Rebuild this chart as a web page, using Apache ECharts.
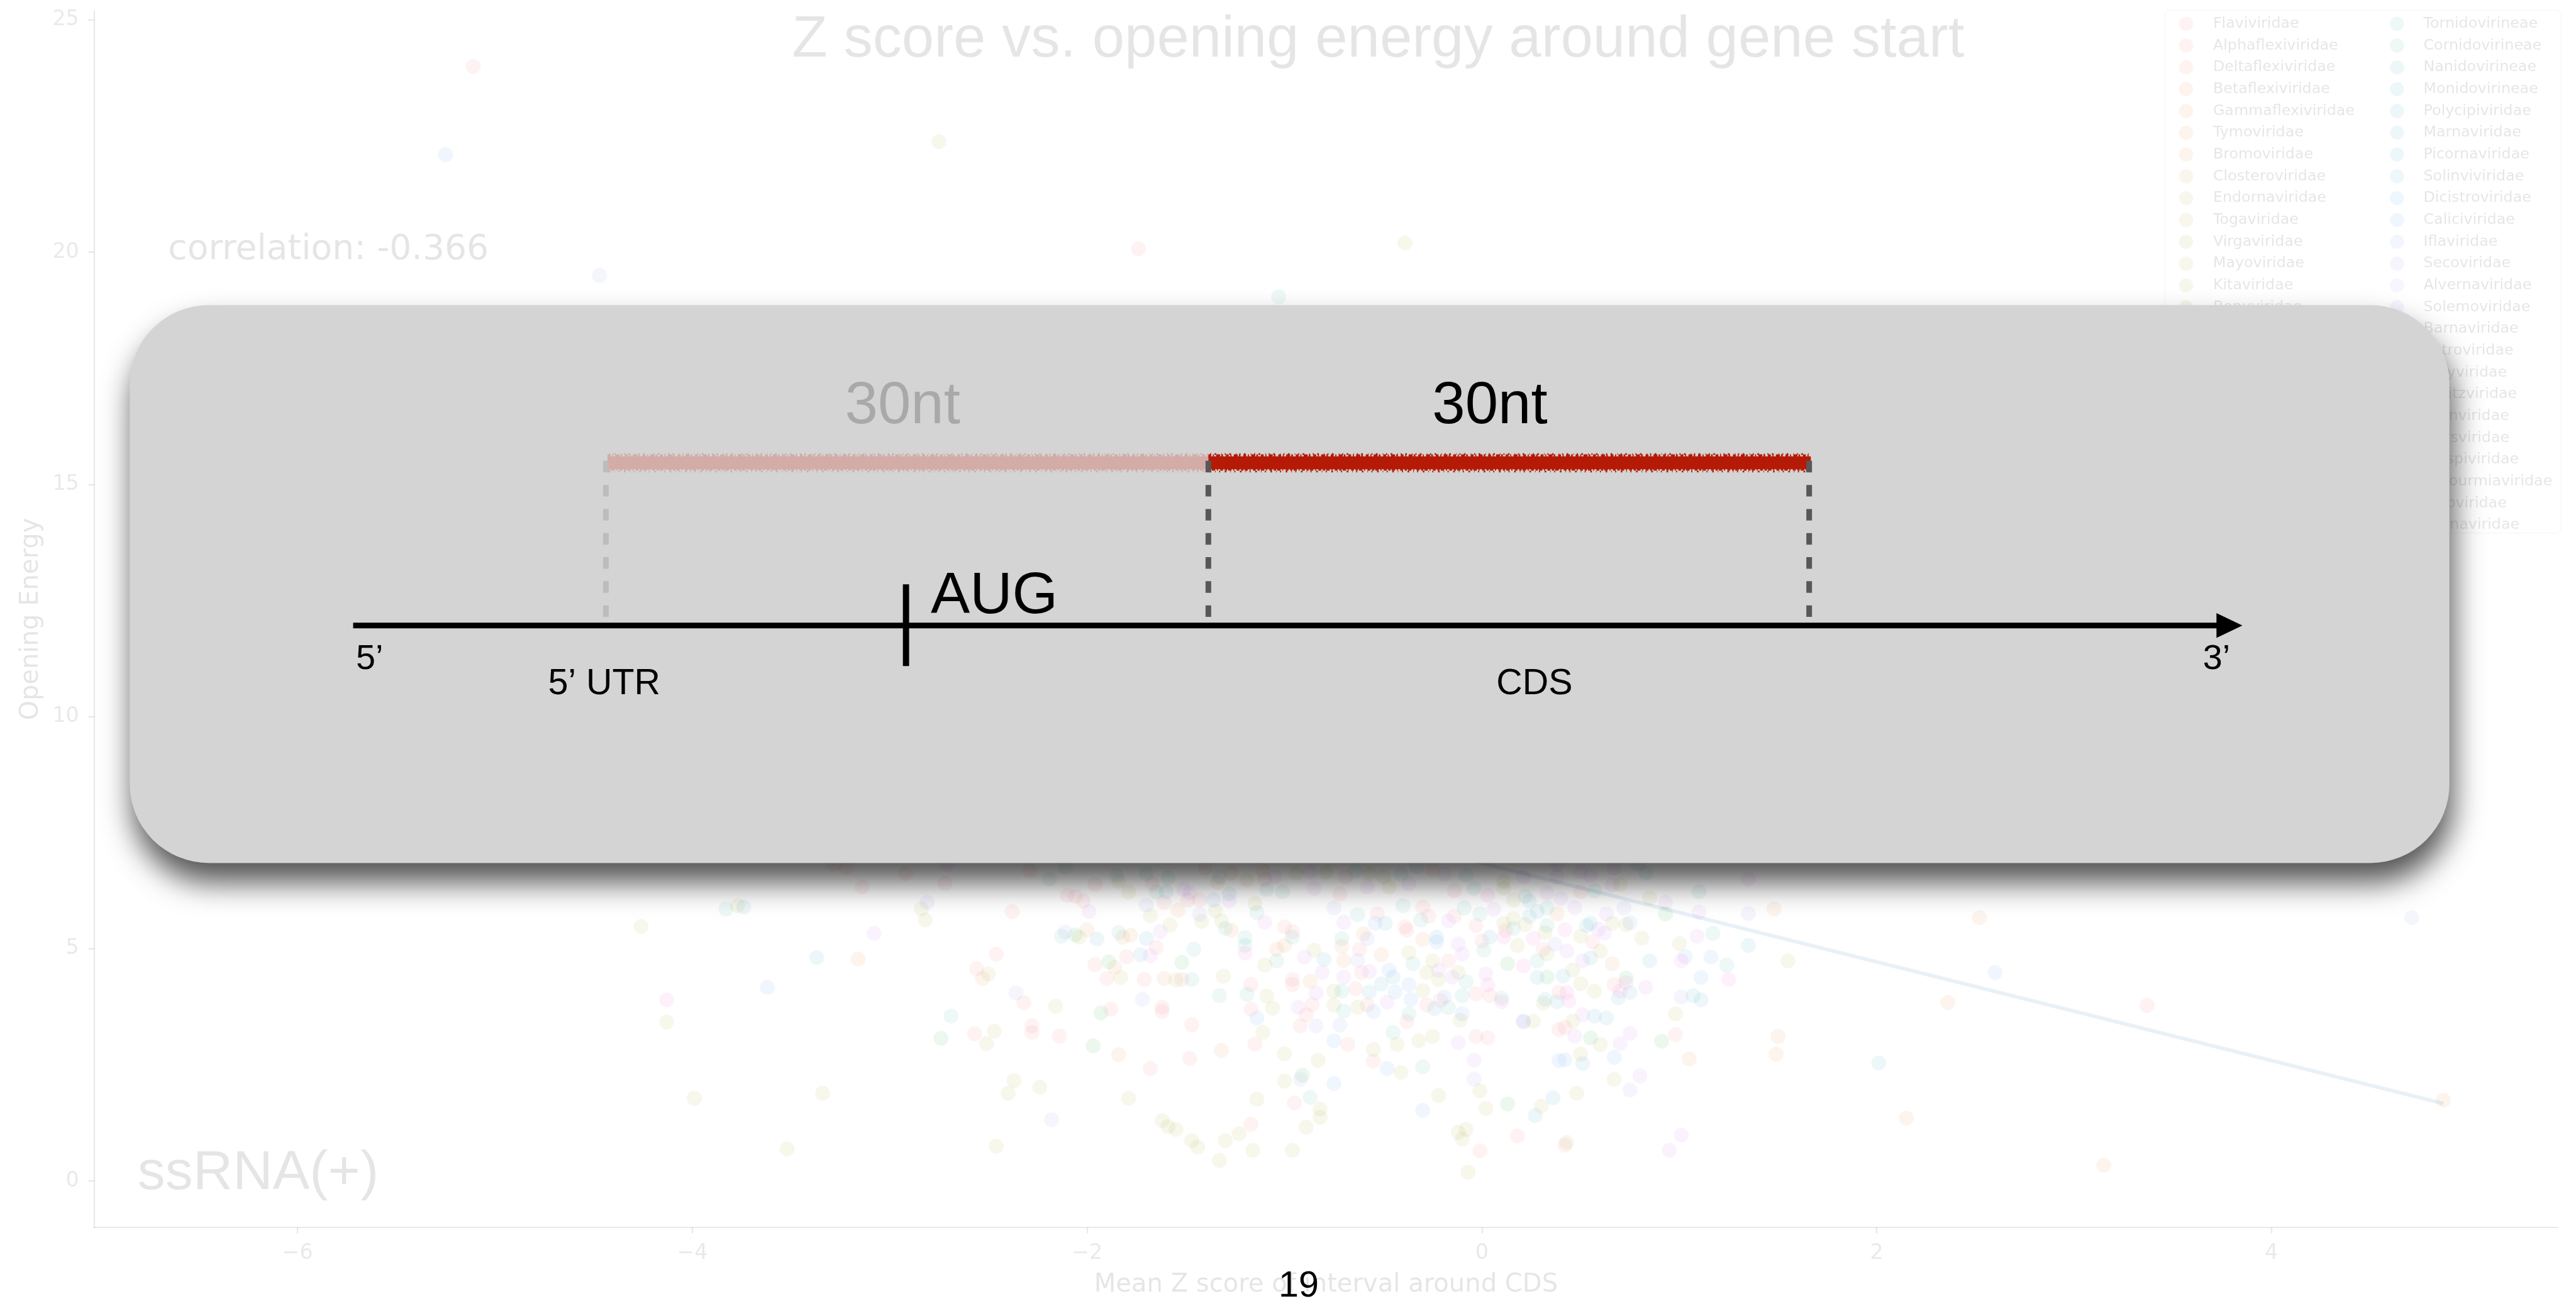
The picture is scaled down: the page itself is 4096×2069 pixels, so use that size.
<!DOCTYPE html>
<html>
<head>
<meta charset="utf-8">
<script src="https://cdn.jsdelivr.net/npm/echarts@6/dist/echarts.min.js"></script>
<style>
  html, body { margin: 0; padding: 0; background: #ffffff; }
  #chart { width: 4096px; height: 2069px; }
</style>
</head>
<body>
<div id="chart"></div>
<script>
// Layout is written on a 4563 x 2305 design grid and scaled down to the canvas.
const SCALE = 0.897;
const s = v => v * SCALE;

// ---- chart text and axes ----
const titleText = 'Z score vs. opening energy around gene start';
const xAxisName = 'Mean Z score of interval around CDS';
const yAxisName = 'Opening Energy';
const correlationText = 'correlation: -0.366';
const groupText = 'ssRNA(+)';
const pageNumber = '19';
const xTicks = [-6, -4, -2, 0, 2, 4];
const yTicks = [0, 5, 10, 15, 20, 25];
const xRange = [-7.03, 5.45];
const yRange = [-1.0, 25.2];

// ---- families (legend order, two columns) ----
const leftFamilies = ['Flaviviridae', 'Alphaflexiviridae', 'Deltaflexiviridae', 'Betaflexiviridae',
  'Gammaflexiviridae', 'Tymoviridae', 'Bromoviridae', 'Closteroviridae', 'Endornaviridae', 'Togaviridae',
  'Virgaviridae', 'Mayoviridae', 'Kitaviridae', 'Benyviridae', 'Hepeviridae', 'Matonaviridae',
  'Alphatetraviridae', 'Carmotetraviridae', 'Permutotetraviridae', 'Nodaviridae', 'Sinhaliviridae',
  'Tombusviridae', 'Hypoviridae', 'Luteoviridae'];
const rightFamilies = ['Tornidovirineae', 'Cornidovirineae', 'Nanidovirineae', 'Monidovirineae',
  'Polycipiviridae', 'Marnaviridae', 'Picornaviridae', 'Solinviviridae', 'Dicistroviridae', 'Caliciviridae',
  'Iflaviridae', 'Secoviridae', 'Alvernaviridae', 'Solemoviridae', 'Barnaviridae', 'Astroviridae',
  'Potyviridae', 'Steitzviridae', 'Duinviridae', 'Fiersviridae', 'Solspiviridae', 'Botourmiaviridae',
  'Mitoviridae', 'Narnaviridae'];

// ---- points: [mean Z score, opening energy] ----
const alphaflexiPoints = [
  [-5.11,24.0],[-1.74,20.07],
  [-3.28,6.81],[-3.22,6.75],[-2.92,6.62],[-2.29,6.68],[-3.14,6.33],[-2.72,6.41],[-2.38,5.80],[-2.46,4.88],
  [-2.56,4.57],[-2.32,3.84],[-2.57,3.17],[-2.28,3.34],[-2.28,3.20],
  [-1.96,6.39],[-1.67,6.40],[-1.10,6.50],[-0.69,6.55],[-0.72,6.18],[-0.25,6.71],[-0.14,6.25],[-2.10,6.15],
  [-2.06,6.13],[-2.02,6.03],
  [-1.61,6.00],[-1.49,6.05],[-1.43,6.05],[-1.65,5.03],[-1.80,4.83],[-1.96,4.66],[-1.90,4.36],[-1.71,4.34],
  [-1.52,4.34],[-1.88,3.70],[-1.62,3.74],[-1.62,3.65],[-2.14,3.12],[-1.68,2.42],[-1.47,3.36],[-1.48,2.64],
  [-1.17,4.23],[-1.17,3.70],[-1.15,2.95],[-1.00,5.47],[-0.96,5.37],[-0.96,4.34],[-0.96,4.23],[-0.86,3.80],
  [-0.89,3.58],[-0.92,3.34],[-0.68,2.94],[-0.95,1.68],[-1.17,1.22],[-0.64,4.14],[-0.58,3.79],[-0.61,4.49],
  [-0.62,4.99],[-0.53,5.75],[-0.39,5.47],[-0.38,5.40],[-0.17,4.74],[-0.03,4.03],[0.04,3.99],[0.00,5.17],
  [-0.14,5.70],[-0.30,5.90],[-0.27,5.70],[-0.03,5.50],[-0.28,3.79],[-0.21,3.89],[-0.38,3.43],[-0.03,3.11],
  [0.03,3.08],[-0.55,2.58],[-0.01,0.65],
  [0.50,6.23],[0.12,5.40],[0.56,5.15],[0.31,4.99],[0.67,4.23],[0.39,4.06],[0.39,3.26],[0.42,3.31],[0.98,3.15],
  [0.18,0.97],[0.42,0.77],[3.37,3.78]
];
const tymoPoints = [
  [-3.16,4.78],[-2.53,4.36],[-1.40,6.73],[-1.34,6.43],[-1.27,6.63],[-1.11,6.68],
  [-1.54,5.83],[-1.27,5.40],[-1.78,5.29],[-1.82,5.25],[-2.00,5.41],[-1.86,4.60],[-1.61,4.36],[-1.84,2.72],
  [-1.32,2.81],[-1.04,4.99],[-1.00,5.07],[-0.87,4.30],[-0.70,4.75],[-0.71,5.05],[-0.60,5.32],[-0.51,4.87],
  [-0.30,5.20],
  [0.38,5.75],[1.48,5.86],[0.66,4.68],[1.05,2.63],[1.50,3.11],[1.49,2.73],[2.15,1.35],[2.36,3.84],
  [2.52,5.67],[4.87,1.74],[3.15,0.34]
];
const mayoPoints = [
  [-2.75,22.38],[-0.39,20.2],
  [-3.77,5.93],[-4.26,5.48],[-2.84,5.86],[-2.82,5.62],[-2.50,4.46],[-4.13,3.42],[-2.47,3.23],[-2.51,2.96],
  [-3.99,1.78],[-3.34,1.89],[-2.37,2.16],[-2.40,1.89],[-2.24,2.02],[-3.52,0.69],[-2.46,0.75],
  [-1.84,6.45],[-1.79,6.22],[-1.19,6.48],[-0.94,6.63],[-0.79,6.66],[-0.57,6.63],[-0.50,6.55],[-0.47,6.33],
  [-1.68,5.71],[-1.42,5.59],[-1.35,5.82],[-1.32,5.60],[-1.58,5.51],[-2.04,5.25],[-1.83,4.38],[-1.55,4.33],
  [-1.31,4.41],[-2.16,3.76],[-1.09,3.98],[-1.06,3.72],[-1.11,3.20],[-1.15,5.97],[-1.10,4.65],[-0.85,4.97],
  [-0.75,3.79],[-1.00,2.74],[-0.83,2.60],[-1.00,2.15],[-0.82,1.55],[-0.82,1.37],[-0.89,1.16],[-1.14,1.76],
  [-1.16,0.66],[-0.96,0.66],[-1.23,1.02],[-1.30,0.87],[-1.33,0.44],[-1.44,0.73],[-1.47,0.87],[-1.55,1.11],
  [-1.59,1.17],[-1.62,1.30],[-1.79,1.78],[-0.75,4.09],[-0.63,3.74],[-0.37,4.92],[-0.28,4.49],[-0.25,4.74],
  [-0.22,4.34],[-0.12,4.49],[-0.30,4.10],[-0.11,3.46],[-0.43,2.94],[-0.32,3.02],[-0.25,3.11],[-0.55,2.83],
  [-0.41,2.34],[-0.01,1.94],[-0.22,1.84],[0.02,1.56],[-0.12,1.05],[-0.08,1.11],[-0.10,0.90],[-0.07,0.19],
  [0.11,6.45],[0.85,6.09],[0.70,6.38],[0.16,6.05],[0.11,6.30],[0.16,5.65],[0.11,5.55],[0.22,5.52],[0.66,5.55],
  [0.73,5.52],[0.50,5.27],[0.60,4.95],[0.32,5.35],[0.33,4.89],[0.18,5.07],[0.81,5.23],[1.00,5.11],[1.55,4.74],
  [0.46,4.54],[0.50,4.25],[0.57,4.09],[0.31,3.83],[0.26,3.44],[0.46,3.44],[0.60,2.94],[0.98,3.60],[0.50,2.73],
  [0.67,2.19],[0.48,1.89],[0.30,1.61],[0.43,0.83]
];
const carmotetraPoints = [
  [-2.74,3.07],[-2.06,5.30],[-1.52,4.71],[-1.89,4.72],[-1.93,3.62],[-1.97,2.91],[-0.91,2.28],
  [0.93,5.75],[0.13,4.68],[0.33,4.39],[0.73,4.37],[0.55,3.08],[0.91,3.01],[0.13,1.66]
];
const cornidoPoints = [
  [-1.03,19.04],[-3.83,5.86],[-2.69,3.55],
  [-2.19,6.50],[-2.11,6.76],[-1.85,6.58],[-1.70,6.61],[-1.59,6.53],[-1.65,6.22],[-1.33,6.55],[-1.09,6.28],
  [-1.01,6.23],[-0.64,6.68],[-0.41,6.61],[-0.33,6.76],[-0.08,6.58],[-0.04,6.30],
  [-1.30,5.44],[-1.84,5.35],[-2.13,5.27],[-1.46,4.99],[-1.47,4.34],[-1.33,3.99],[-1.19,4.02],[-1.20,5.24],
  [-1.20,5.07],[-1.14,5.78],[-1.04,4.74],[-0.96,5.25],[-0.87,1.80],[-0.71,4.09],[-0.70,3.66],[-0.71,5.22],
  [-0.63,5.73],[-0.40,5.93],[-0.31,5.62],[-0.35,4.68],[-0.08,4.29],[-0.10,3.99],[0.01,4.97],[-0.09,5.88],
  [-0.01,5.75],[-0.17,3.73],[-0.37,3.60],[-0.45,3.20],[-0.30,2.46],
  [0.83,6.63],[0.79,6.83],[1.10,6.23],[0.57,6.25],[0.22,6.13],[0.33,5.88],[0.16,5.44],[0.33,5.50],[1.17,5.33],
  [0.28,4.74],[1.24,4.65],[0.10,3.94]
];
const marnaPoints = [
  [-3.74,5.90],[-3.37,4.81],[-1.60,6.23],[-1.28,6.18],
  [-1.70,5.22],[-1.95,5.21],[-1.73,4.87],[-0.80,4.77],[-0.57,4.07],[-0.49,5.55],[-0.45,4.39],[-0.51,4.24],
  [-0.23,5.25],[0.04,5.25],[-0.24,3.71],
  [0.24,6.03],[0.28,5.80],[0.24,5.70],[0.55,5.55],[0.53,5.50],[0.55,4.80],[1.35,5.07],[0.85,4.74],[0.28,4.38],
  [0.41,4.41],[0.75,4.06],[0.69,3.94],[1.07,3.99],[1.11,3.90],[0.32,3.91],[0.38,3.86],[0.21,3.44],[0.57,3.55],
  [0.63,3.51],[0.51,2.53],[2.01,2.54],[0.36,1.79],[0.27,1.41]
];
const caliciPoints = [
  [-5.25,22.1],[-3.62,4.17],
  [-1.36,6.05],[-1.14,3.51],[-0.75,3.02],[-0.75,2.10],[-0.55,3.65],[-0.54,5.55],[-0.47,4.54],[-0.44,4.07],
  [-0.23,5.15],[-0.37,4.23],[-0.36,3.91],[-0.19,3.96],[-0.10,3.60],[-0.48,2.42],[-0.30,1.52],
  [0.75,5.56],[1.03,4.83],[1.16,4.82],[1.11,4.38],[0.39,2.59],[0.42,2.61],[0.67,2.66],[2.60,4.49]
];
const secoPoints = [
  [-4.47,19.5],[-2.81,6.00],[-2.36,4.05],
  [-1.70,5.94],[-1.43,5.74],[-2.11,5.36],[-1.72,3.91],[-0.84,3.34],[-0.72,3.36],[-0.92,2.19],[-2.18,1.32],
  [-0.63,4.75],[-0.58,5.22],[-0.75,5.88],[-0.04,2.19],
  [0.72,5.88],[1.35,5.76],[0.37,5.10],[1.01,3.96],[0.75,1.96],[4.71,5.67]
];
const barnaPoints = [
  [-2.71,6.81],[-3.08,5.33],
  [-1.51,6.28],[-1.48,6.20],[-1.05,6.55],[-0.87,6.66],[-0.85,6.30],[-0.58,6.33],[-0.37,6.40],[-0.19,6.61],
  [-1.99,5.80],[-1.28,6.03],[-1.63,5.37],[-1.68,4.85],[-1.10,5.57],[-0.90,4.82],[-0.81,4.49],[-0.84,4.05],
  [-0.93,3.74],[-0.70,4.39],[-0.57,4.51],[-0.70,5.57],[-0.48,3.85],[-0.22,4.54],[-0.15,4.39],[0.02,4.46],
  [-0.12,5.10],[-0.10,4.89],[-0.17,5.60],[-0.12,2.98],[-0.04,2.60],
  [0.21,6.55],[0.38,6.81],[0.38,6.55],[0.50,6.66],[0.55,6.58],[0.67,6.73],[0.66,6.38],[1.35,6.50],[0.93,6.00],
  [0.33,6.20],[0.40,6.08],[0.06,5.85],[0.47,5.89],[0.63,5.75],[1.10,5.79],[0.59,5.42],[0.62,5.34],[0.43,4.95],
  [0.51,4.74],[1.09,5.27],[0.83,4.17],[0.21,3.43],[0.51,3.58],[0.47,3.12],[0.70,2.96],[0.75,3.18],[0.80,2.26],
  [1.01,0.99],[0.95,0.66]
];
const fiersPoints = [
  [-4.13,3.90],[-1.20,4.91],[0.03,4.22],[0.03,6.15],
  [0.11,5.25],[0.42,5.41],[0.26,5.22],[0.21,4.63],[1.01,4.74],[0.73,4.27],[0.70,4.09],[1.25,4.34],[0.43,4.06],
  [0.44,3.88],[0.10,3.86]
];
const familyPoints = [
  ['Alphaflexiviridae', alphaflexiPoints], ['Tymoviridae', tymoPoints], ['Mayoviridae', mayoPoints],
  ['Carmotetraviridae', carmotetraPoints], ['Cornidovirineae', cornidoPoints], ['Marnaviridae', marnaPoints],
  ['Caliciviridae', caliciPoints], ['Secoviridae', secoPoints], ['Barnaviridae', barnaPoints],
  ['Fiersviridae', fiersPoints]
];

// least-squares fit drawn across the data
const fitLine = [[-5.25, 12.42], [4.87, 1.67]];

// ---- HUSL palette (same hue wheel seaborn uses for many categories) ----
function huslToRgb(h, sat, l) {
  const M = [[3.240969941904521, -1.537383177570093, -0.498610760293],
             [-0.96924363628087, 1.87596750150772, 0.041555057407175],
             [0.055630079696993, -0.20397695888897, 1.056971514242878]];
  const refU = 0.19783000664283, refV = 0.46831999493879;
  const kappa = 903.2962962, eps = 0.0088564516;
  const sub1 = Math.pow(l + 16, 3) / 1560896;
  const sub2 = sub1 > eps ? sub1 : l / kappa;
  const hr = h / 360 * Math.PI * 2;
  let maxC = Infinity;
  for (let c = 0; c < 3; c++) {
    const [m1, m2, m3] = M[c];
    for (let t = 0; t < 2; t++) {
      const top1 = (284517 * m1 - 94839 * m3) * sub2;
      const top2 = (838422 * m3 + 769860 * m2 + 731718 * m1) * l * sub2 - 769860 * t * l;
      const bottom = (632260 * m3 - 126452 * m2) * sub2 + 126452 * t;
      const len = (top2 / bottom) / (Math.sin(hr) - (top1 / bottom) * Math.cos(hr));
      if (len >= 0) maxC = Math.min(maxC, len);
    }
  }
  const C = maxC / 100 * sat;
  const U = Math.cos(hr) * C, V = Math.sin(hr) * C;
  const Y = l <= 8 ? l / kappa : Math.pow((l + 16) / 116, 3);
  const vu = U / (13 * l) + refU, vv = V / (13 * l) + refV;
  const X = -(9 * Y * vu) / ((vu - 4) * vv - vu * vv);
  const Z = (9 * Y - 15 * vv * Y - vv * X) / (3 * vv);
  const rgb = M.map(r => r[0] * X + r[1] * Y + r[2] * Z)
    .map(c => c <= 0.0031308 ? 12.92 * c : 1.055 * Math.pow(c, 1 / 2.4) - 0.055)
    .map(c => Math.round(Math.max(0, Math.min(1, c)) * 255));
  return 'rgb(' + rgb.join(',') + ')';
}
function huslPalette(n) {
  const out = [];
  for (let i = 0; i < n; i++) {
    const h = ((i / n + 0.01) % 1) * 359;
    out.push(huslToRgb(h, 0.9 * 99, 0.65 * 99));
  }
  return out;
}

// ---- styles ----
const INK = 'rgba(0,0,0,0.1)';           // washed-out chart text
const AXIS_INK = 'rgba(38,38,38,0.1)';
const POINT_OPACITY = 0.09;
const MID = 0.29;                         // baseline-to-middle offset, in em
const minus = v => String(v).replace('-', '\u2212');

const allFamilies = leftFamilies.concat(rightFamilies);
const palette = huslPalette(allFamilies.length);

const series = allFamilies.map((name, i) => {
  const hit = familyPoints.find(f => f[0] === name);
  return {
    type: 'scatter', name: name, data: hit ? hit[1] : [],
    symbol: 'circle', symbolSize: s(26.5), silent: true, z: 2,
    itemStyle: { color: palette[i], opacity: POINT_OPACITY, borderColor: '#ffffff', borderWidth: 1.5 }
  };
});
series.push({
  type: 'line', name: 'fit', data: fitLine, symbol: 'none', silent: true, z: 3,
  lineStyle: { color: '#1f77b4', width: s(6.5), opacity: 0.1 }
});

function legendColumn(names, iconCenterX, textX) {
  const icon = s(25);
  const fontSize = s(26.5);
  const rowH = Math.max(icon, fontSize);
  const left = s(iconCenterX) - icon / 2;
  return {
    data: names, orient: 'vertical', icon: 'circle', selectedMode: false,
    left: left, top: s(42) - rowH / 2, padding: 0,
    itemWidth: icon, itemHeight: icon, itemGap: s(38.4) - rowH,
    itemStyle: { borderWidth: 0 },
    textStyle: {
      fontFamily: 'DejaVu Sans', fontSize: fontSize, color: INK,
      padding: [0, 0, 0, s(textX) - (left + icon + 5)]
    }
  };
}

// text helper: x, baseline and size on the design grid
function label(text, x, baseline, size, fill, align, family, z) {
  return {
    type: 'text', z: z, silent: true,
    x: s(x), y: s(baseline) - MID * s(size),
    style: {
      text: text, fill: fill, font: s(size) + 'px "' + family + '"',
      align: align, verticalAlign: 'middle', textAlign: align, textVerticalAlign: 'middle'
    }
  };
}
function hline(x1, x2, y, width, color, dash, z) {
  return { type: 'line', z: z, silent: true,
    shape: { x1: s(x1), y1: s(y), x2: s(x2), y2: s(y) },
    style: { stroke: color, lineWidth: s(width), lineDash: dash ? dash.map(s) : null } };
}
function vline(x, y1, y2, width, color, dash, z) {
  return { type: 'line', z: z, silent: true,
    shape: { x1: s(x), y1: s(y1), x2: s(x), y2: s(y2) },
    style: { stroke: color, lineWidth: s(width), lineDash: dash ? dash.map(s) : null } };
}
// brush-like window bar: solid core with ragged dashed fringes
function windowBar(x1, x2, color, z) {
  return [
    { type: 'rect', z: z, silent: true, shape: { x: s(x1), y: s(809), width: s(x2 - x1), height: s(23) }, style: { fill: color } },
    hline(x1, x2, 808, 5, color, [5, 3, 2, 4, 7, 2, 3, 5], z),
    hline(x1, x2, 832, 5, color, [4, 2, 6, 3, 2, 4, 5, 3], z),
    hline(x1 + 3, x2, 805, 3, color, [2, 6, 3, 9, 1, 5], z),
    hline(x1 + 2, x2, 836, 3, color, [3, 7, 1, 6, 2, 8], z)
  ];
}

const Z_BOX = 100;
const diagram = [
  { type: 'rect', z: Z_BOX, silent: true,
    shape: { x: s(230), y: s(541), width: s(4342 - 230), height: s(1530 - 541), r: s(140) },
    style: { fill: '#d4d4d4', shadowBlur: 48, shadowColor: 'rgba(0,0,0,0.68)', shadowOffsetX: 5, shadowOffsetY: 31 } },
  ...windowBar(1077, 2142, '#d3aba7', Z_BOX + 1),
  ...windowBar(2142, 3210, '#b51a06', Z_BOX + 1),
  vline(1074, 817, 1094, 10, '#bcbcbc', [20.5, 22.2], Z_BOX + 2),
  vline(2142, 817, 1094, 10, '#575757', [20.5, 22.2], Z_BOX + 2),
  vline(3207, 817, 1094, 10, '#575757', [20.5, 22.2], Z_BOX + 2),
  hline(626, 3935, 1109, 10, '#000000', null, Z_BOX + 3),
  { type: 'polygon', z: Z_BOX + 3, silent: true,
    shape: { points: [[s(3929), s(1087)], [s(3975), s(1109)], [s(3929), s(1131)]] },
    style: { fill: '#000000' } },
  vline(1606, 1036, 1181, 11, '#000000', null, Z_BOX + 3),
  label('30nt', 1600, 752, 105, '#a9a9a9', 'center', 'Liberation Sans', Z_BOX + 4),
  label('30nt', 2641, 752, 105, '#000000', 'center', 'Liberation Sans', Z_BOX + 4),
  label('AUG', 1650, 1088, 104, '#000000', 'left', 'Liberation Sans', Z_BOX + 4),
  label('5\u2019', 631, 1187, 62, '#000000', 'left', 'Liberation Sans', Z_BOX + 4),
  label('3\u2019', 3905, 1187, 62, '#000000', 'left', 'Liberation Sans', Z_BOX + 4),
  label('5\u2019 UTR', 1071, 1232, 64, '#000000', 'center', 'Liberation Sans', Z_BOX + 4),
  label('CDS', 2720, 1232, 64, '#000000', 'center', 'Liberation Sans', Z_BOX + 4),
  label(pageNumber, 2302, 2300, 64, '#000000', 'center', 'Liberation Sans', Z_BOX + 10)
];

const chartText = [
  { type: 'rect', z: 3, silent: true,
    shape: { x: s(3838), y: s(18), width: s(4540 - 3838), height: s(945 - 18), r: s(9) },
    style: { fill: 'rgba(255,255,255,0.8)', stroke: 'rgba(204,204,204,0.1)', lineWidth: s(2.5) } },
  label(titleText, 2443, 102, 103, INK, 'center', 'Liberation Sans', 10),
  label(correlationText, 298, 461, 61.5, INK, 'left', 'DejaVu Sans', 10),
  label(groupText, 244, 2109, 98, INK, 'left', 'Liberation Sans', 10)
];

const axisCommon = {
  type: 'value',
  axisLine: { show: true, onZero: false, lineStyle: { color: AXIS_INK, width: s(2.5) } },
  axisTick: { show: true, inside: false, length: s(10.5), lineStyle: { color: AXIS_INK, width: s(2.5) } },
  splitLine: { show: false },
  nameLocation: 'middle',
  nameTextStyle: { fontFamily: 'DejaVu Sans', fontSize: s(44.7), color: INK }
};

const option = {
  animation: false,
  backgroundColor: '#ffffff',
  grid: { left: s(167), top: s(19), width: s(4534 - 167), height: s(2177 - 19), containLabel: false },
  xAxis: Object.assign({}, axisCommon, {
    min: xRange[0], max: xRange[1], name: xAxisName, nameGap: 72,
    axisTick: Object.assign({}, axisCommon.axisTick, { customValues: xTicks }),
    axisLabel: { customValues: xTicks, margin: 24.5, fontFamily: 'DejaVu Sans', fontSize: s(37), color: AXIS_INK, formatter: minus }
  }),
  yAxis: Object.assign({}, axisCommon, {
    min: yRange[0], max: yRange[1], name: yAxisName, nameGap: 80,
    axisTick: Object.assign({}, axisCommon.axisTick, { customValues: yTicks }),
    axisLabel: { customValues: yTicks, margin: 24.2, fontFamily: 'DejaVu Sans', fontSize: s(37), color: AXIS_INK, formatter: minus }
  }),
  legend: [legendColumn(leftFamilies, 3875, 3923), legendColumn(rightFamilies, 4249, 4296)],
  series: series,
  graphic: { elements: chartText.concat(diagram) }
};

const chart = echarts.init(document.getElementById('chart'), null, { renderer: 'canvas' });
chart.setOption(option);
</script>
</body>
</html>
